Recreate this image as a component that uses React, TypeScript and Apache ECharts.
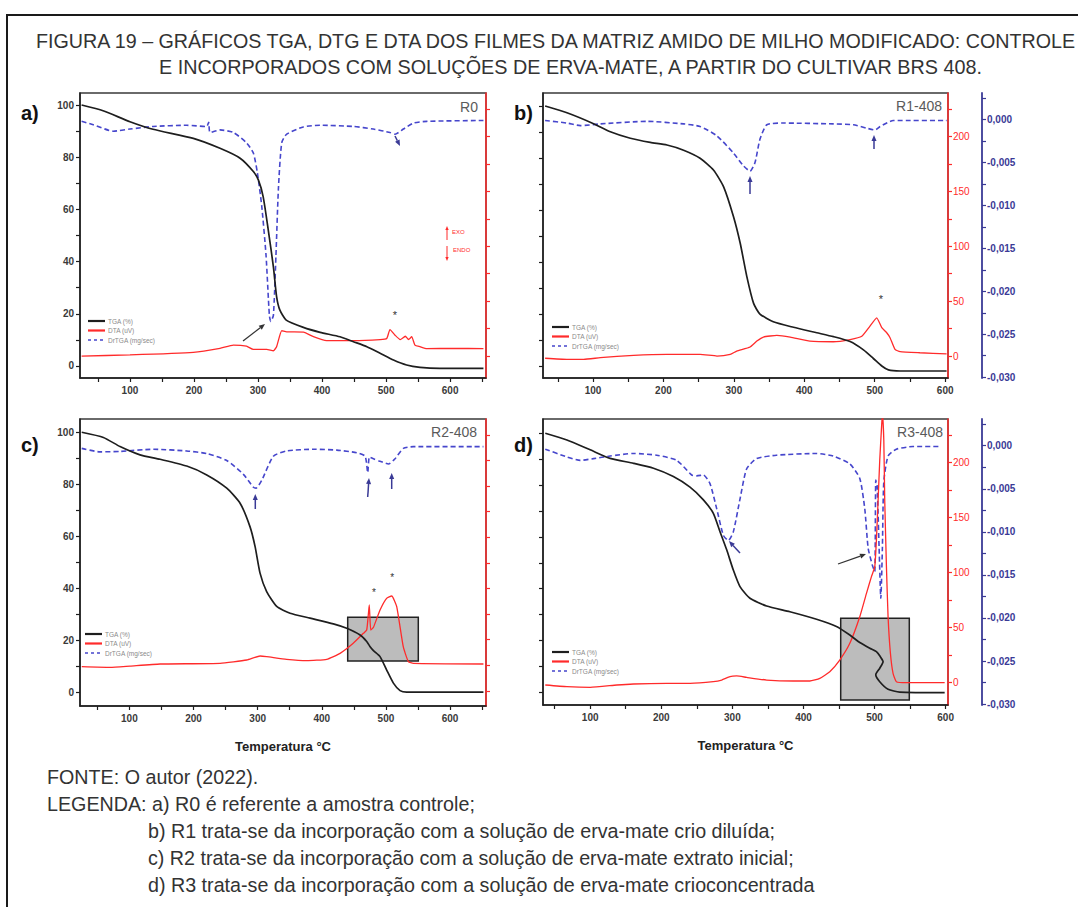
import React, { useEffect, useRef } from "react";
import * as echarts from "echarts";

const FONT = '"Liberation Sans", Arial, sans-serif';

const TITLE_LINES = [
  "FIGURA 19 – GRÁFICOS TGA, DTG E DTA DOS FILMES DA MATRIZ AMIDO DE MILHO MODIFICADO: CONTROLE",
  "E INCORPORADOS COM SOLUÇÕES DE ERVA-MATE, A PARTIR DO CULTIVAR BRS 408.",
];
const CAPTION_LINES = [
  "FONTE: O autor (2022).",
  "LEGENDA: a) R0 é referente a amostra controle;",
  "b) R1 trata-se da incorporação com a solução de erva-mate crio diluída;",
  "c) R2 trata-se da incorporação com a solução de erva-mate extrato inicial;",
  "d) R3 trata-se da incorporação com a solução de erva-mate crioconcentrada",
];
const PANEL_LETTERS = ["a)", "b)", "c)", "d)"];
const SAMPLE_NAMES = ["R0", "R1-408", "R2-408", "R3-408"];
const SERIES_NAMES = ["TGA (%)", "DTA (uV)", "DrTGA (mg/sec)"];
const X_AXIS_NAME = "Temperatura °C";

const X_TICKS = [50, 100, 150, 200, 250, 300, 350, 400, 450, 500, 550, 600, 650];
const X_LABELS = [100, 200, 300, 400, 500, 600];
const TGA_TICKS = [0, 10, 20, 30, 40, 50, 60, 70, 80, 90, 100];
const TGA_LABELS = [0, 20, 40, 60, 80, 100];
const DTA_TICKS = [0, 25, 50, 75, 100, 125, 150, 175, 200, 225];
const DTA_TICKS_C = [-25, 0, 25, 50, 75, 100, 125, 150, 175, 200, 225];
const DTA_LABELS = [0, 50, 100, 150, 200];
const DTG_TICKS = [-0.03, -0.0275, -0.025, -0.0225, -0.02, -0.0175, -0.015, -0.0125, -0.01, -0.0075, -0.005, -0.0025, 0, 0.0025];
const DTG_LABELS = [-0.03, -0.025, -0.02, -0.015, -0.01, -0.005, 0];

// ---- R0 (a)
const tgaA = [[24.5,100],[58,97.8],[100,93.6],[136,90.7],[199,87.2],[240.6,83.4],[272,79.6],[292.7,74.5],[300.5,71.3],[308,64.9],[316,52.1],[324,38],[329,26.6],[334,21.5],[344,17.6],[370.8,14.8],[397,12.9],[428,11.2],[449,9.3],[470,7.4],[490.6,4.9],[511.5,2.3],[532,0.4],[553,-0.5],[584,-0.9],[652,-0.9]];
const dtaA = [[24.5,0],[100,1],[199,3.3],[240.6,7],[261.5,10],[282,9],[292.7,6],[313.5,6],[324,4.8],[329,8.5],[337,23],[344.8,22],[371,21.8],[386.5,17.6],[407,14],[449,14],[490.6,15],[501,16],[506,24],[514,19],[522,15],[530,18],[535,15],[540,17.6],[545,10],[553,8.5],[563.5,6.7],[605,7],[652,6.7]];
const dtgA = [[24.5,-0.0002],[42.7,-0.0006],[74,-0.00135],[100,-0.0011],[136,-0.0008],[188.5,-0.00066],[219.8,-0.0008],[223,-0.0003],[225,-0.0015],[240.6,-0.0012],[261.5,-0.0015],[282,-0.0027],[292.7,-0.0039],[299,-0.0062],[305.7,-0.01],[312.5,-0.0158],[317.7,-0.0228],[319.8,-0.0235],[324,-0.0228],[328,-0.0158],[331.8,-0.0081],[337,-0.0027],[344.8,-0.0017],[370.8,-0.00085],[397,-0.00066],[449,-0.0008],[480,-0.0011],[506,-0.0015],[514,-0.0017],[527,-0.0011],[542.7,-0.0004],[563.5,-0.0002],[652,-0.0001]];

// ---- R1-408 (b)
const tgaB = [[32,100],[63,97.4],[100,93.3],[124.6,90.1],[153,87.6],[181.3,86],[205,85],[228.6,83],[252,79.9],[271,75.4],[285.3,69],[299.5,57.4],[309,47.2],[318.4,34.4],[328,24.1],[337,20],[356,17],[384.6,14.9],[417.7,12.8],[441.4,11.3],[465,9.4],[484,6.2],[498,2.9],[510,0],[519.4,-1.5],[536,-1.9],[602,-1.9]];
const dtaB = [[32,-2],[63,-3],[86.8,-3],[110.4,-1.5],[157.7,0.6],[205,1.5],[252,1.5],[276,0],[294.8,1.5],[304,4.5],[323,8.2],[332.6,13.6],[342,17.3],[361,18.8],[380,17.3],[408,13.6],[441,13],[465,15],[481.6,18],[493,27],[502.8,34.8],[510,25.8],[517,21.2],[521.7,16.7],[528.8,6],[536,4],[564,3],[602,2]];
const dtgB = [[32,-0.0001],[63,-0.0004],[82,-0.0007],[110.4,-0.0005],[176.6,-0.0002],[228.6,-0.0005],[252,-0.0008],[276,-0.0019],[299.5,-0.0039],[313.7,-0.0054],[323,-0.006],[330,-0.005],[337,-0.0023],[346.8,-0.0006],[370,-0.0004],[441,-0.0005],[469.7,-0.0006],[488.6,-0.001],[500.5,-0.0012],[507.6,-0.0008],[526.5,-0.0001],[602,-0.0001]];

// ---- R2-408 (c)
const tgaC = [[25.7,100],[59.5,98],[85.4,94.5],[116.6,91.3],[147.8,89.6],[189.4,87],[220.6,83.6],[251.8,78.5],[272.6,72.7],[288,63.7],[296,56],[303.7,45.8],[314,38.7],[329.7,33],[350.5,30.4],[381.7,28.5],[418,26.3],[438.9,24.6],[459.7,22],[470,19.5],[475,17.6],[480.5,16],[490.8,13.7],[501,8.6],[511.6,3.5],[522,0.6],[532.4,0],[652,0]];
const dtaC = [[25.7,-1.3],[70,-2],[101,-0.7],[147.8,1.3],[241.4,2],[283,5.2],[303.7,9.1],[314,8.5],[345,5.9],[376.5,4.6],[407.7,5.9],[428.5,11.7],[449,21.5],[464.9,31.3],[470,34.5],[472.7,50.8],[474,58.9],[476.3,34.5],[480.5,37.1],[490.8,54],[501,65.4],[509,67.7],[516.8,57.3],[527,18.2],[535,3.6],[542.8,2],[652,1.3]];
const dtgC = [[25.7,-0.0003],[54,-0.0007],[85.4,-0.00065],[137.4,-0.0004],[189.4,-0.0006],[220.6,-0.0009],[251.8,-0.0017],[277.8,-0.0033],[293.4,-0.0048],[297.5,-0.0049],[306.3,-0.004],[324.5,-0.0012],[345.3,-0.0006],[386.9,-0.0004],[423.3,-0.0005],[454.5,-0.0008],[467.5,-0.0012],[471.6,-0.0031],[474.2,-0.0013],[480.5,-0.0015],[491,-0.0018],[504,-0.0021],[514.2,-0.0015],[527.2,-0.0003],[542.8,-0.0001],[652,-0.0001]];

// ---- R3-408 (d)
const tgaD = [[36.8,100],[67.2,97.4],[100,93.6],[128,90.3],[160.9,88.4],[189,86.5],[217,83.3],[240.4,79.2],[259.2,74.3],[273.2,69.1],[282.6,62],[292,55],[301.3,47.2],[310.7,40.8],[324.7,36.3],[348.1,33.3],[380.9,31.1],[418.4,28.2],[446.4,25.4],[465.2,22.1],[479.2,19.2],[493.3,17],[502.6,15.7],[508,13.8],[512,11.8],[507.3,9.3],[501.7,6.8],[507.3,4.1],[519,1.2],[535.4,0.1],[598.6,-0.1]];
const dtaD = [[36.8,-2.1],[67.2,-3.6],[100,-4.2],[137.5,-2.1],[160.9,-1.2],[207.7,-0.6],[240.4,-0.6],[273.2,0.9],[285,2.4],[296.6,5.5],[306,6.1],[320,4.8],[348.1,2.4],[385.6,1.5],[409,1.5],[423,3.9],[437,10],[451,20.6],[465.2,35.8],[479.2,60],[488.6,81.2],[495.6,96.4],[500.3,105.5],[502.6,129.7],[505,166],[507.3,202.4],[509.6,229.7],[511,245],[513,220.6],[514.3,166],[516.7,105.5],[519,60],[522.3,26.7],[526,8.5],[530.7,0.9],[544.8,0],[598.6,0]];
const dtgD = [[36.8,-0.0004],[67.2,-0.0013],[86,-0.0017],[104.7,-0.0015],[128,-0.0012],[160.9,-0.0009],[193.6,-0.0011],[221.7,-0.0017],[242.8,-0.0034],[249.8,-0.0035],[259.2,-0.0034],[268.5,-0.0044],[277.9,-0.0073],[287.3,-0.0104],[294.3,-0.011],[301.3,-0.01],[310.7,-0.0062],[320,-0.0027],[334,-0.0015],[362,-0.0011],[418.4,-0.0009],[441.8,-0.0012],[465.2,-0.0021],[479.2,-0.0038],[486.2,-0.0073],[491,-0.0119],[497,-0.0139],[500.3,-0.0146],[501.7,-0.004],[503.6,-0.0046],[506.4,-0.0119],[508.8,-0.0177],[511,-0.0119],[513,-0.0042],[519,-0.0012],[530.7,-0.0004],[554,-0.0001],[594,-0.0001]];

const TGA_DATA = [tgaA, tgaB, tgaC, tgaD];
const DTA_DATA = [dtaA, dtaB, dtaC, dtaD];
const DTG_DATA = [dtgA, dtgB, dtgC, dtgD];

const LAYOUT = [
  { left: 80, top: 93, width: 406, height: 285, xMin: 22, xMax: 656, tMin: -4.6, tMax: 104.6, dMin: -20, dMax: 239.5, dTicks: DTA_TICKS, leftLabels: true, right: false, bottom: false },
  { left: 543, top: 93, width: 405, height: 285, xMin: 29, xMax: 604, tMin: -4.6, tMax: 105, dMin: -20, dMax: 239.5, dTicks: DTA_TICKS, leftLabels: false, right: true, bottom: false },
  { left: 80, top: 419, width: 406, height: 287, xMin: 23, xMax: 656, tMin: -5.3, tMax: 105.1, dMin: -39.7, dMax: 240.5, dTicks: DTA_TICKS_C, leftLabels: true, right: false, bottom: true },
  { left: 543, top: 419, width: 405, height: 286, xMin: 33.6, xMax: 603.3, tMin: -4.9, tMax: 105.5, dMin: -20.3, dMax: 239.7, dTicks: DTA_TICKS, leftLabels: false, right: true, bottom: true },
];

const BLACK = "#1e1e1e";
const RED = "#ff2b2b";
const BLUE = "#4646cc";
const NAVY = "#3a3a96";

function arrow(x1: number, y1: number, x2: number, y2: number, color: string, head = 6, w = 1.3) {
  const a = Math.atan2(y2 - y1, x2 - x1);
  const bx = x2 - head * Math.cos(a);
  const by = y2 - head * Math.sin(a);
  const px = -Math.sin(a) * head * 0.42;
  const py = Math.cos(a) * head * 0.42;
  return [
    { type: "line", z: 20, shape: { x1, y1, x2: bx, y2: by }, style: { stroke: color, lineWidth: w } },
    { type: "polygon", z: 20, shape: { points: [[x2, y2], [bx + px, by + py], [bx - px, by - py]] }, style: { fill: color } },
  ];
}

function txt(x: number, y: number, text: string, size: number, color: string, align = "left", weight = "normal") {
  return {
    type: "text", x, y, z: 20,
    style: { text, fontSize: size, fontFamily: FONT, fontWeight: weight, fill: color, align, verticalAlign: "middle" },
  };
}

function legendBlock(x: number, y: number) {
  const items: any[] = [];
  const colors = [BLACK, RED, BLUE];
  SERIES_NAMES.forEach((n, k) => {
    const yy = y + k * 9.5;
    items.push({
      type: "line", z: 20, shape: { x1: x, y1: yy, x2: x + 17, y2: yy },
      style: { stroke: colors[k], lineWidth: k === 2 ? 1.6 : 2.2, lineDash: k === 2 ? [3, 3] : null },
    });
    items.push(txt(x + 20, yy, n, 6.5, "#8a8a8a"));
  });
  return items;
}

export default function App() {
  const ref = useRef<HTMLDivElement>(null);
  useEffect(() => {
    if (!ref.current) return;
    const chart = echarts.init(ref.current, null, { renderer: "svg" });

    const grids: any[] = [];
    const xAxes: any[] = [];
    const yAxes: any[] = [];
    const series: any[] = [];

    LAYOUT.forEach((L, i) => {
      grids.push({ left: L.left, top: L.top, width: L.width, height: L.height, show: true, borderColor: "#3a3a3a", borderWidth: 1.5, backgroundColor: "transparent" });
      xAxes.push({
        type: "value", gridIndex: i, min: L.xMin, max: L.xMax,
        axisLine: { show: true, onZero: false, lineStyle: { color: BLACK, width: 1.5 } },
        axisTick: { show: true, length: 4, customValues: X_TICKS.filter((v) => v > L.xMin && v < L.xMax), lineStyle: { color: BLACK, width: 1.2 } },
        axisLabel: { show: true, customValues: X_LABELS, fontSize: 10, fontWeight: "bold", color: "#3a3a3a", fontFamily: FONT, margin: 7 },
        splitLine: { show: false },
        name: L.bottom ? X_AXIS_NAME : "",
        nameLocation: "middle", nameGap: 34,
        nameTextStyle: { fontSize: 13, fontWeight: "bold", color: "#222", fontFamily: FONT },
      });
      yAxes.push({
        type: "value", gridIndex: i, position: "left", min: L.tMin, max: L.tMax,
        axisLine: { show: true, onZero: false, lineStyle: { color: BLACK, width: 1.5 } },
        axisTick: { show: true, length: 4, customValues: TGA_TICKS, lineStyle: { color: BLACK, width: 1.2 } },
        axisLabel: { show: L.leftLabels, customValues: TGA_LABELS, fontSize: 10, fontWeight: "bold", color: "#3a3a3a", fontFamily: FONT, margin: 6 },
        splitLine: { show: false },
      });
      yAxes.push({
        type: "value", gridIndex: i, position: "right", offset: 0, min: L.dMin, max: L.dMax,
        axisLine: { show: true, onZero: false, lineStyle: { color: RED, width: 1.5 } },
        axisTick: { show: true, length: 4, customValues: L.dTicks, lineStyle: { color: RED, width: 1.2 } },
        axisLabel: { show: L.right, customValues: DTA_LABELS, fontSize: 10, color: RED, fontFamily: FONT, margin: 5 },
        splitLine: { show: false },
      });
      yAxes.push({
        type: "value", gridIndex: i, position: "right", offset: 34, min: -0.0301, max: 0.0031, show: L.right,
        axisLine: { show: true, onZero: false, lineStyle: { color: NAVY, width: 1.8 } },
        axisTick: { show: true, length: 4, customValues: DTG_TICKS, lineStyle: { color: NAVY, width: 1.2 } },
        axisLabel: {
          show: true, customValues: DTG_LABELS, fontSize: 10, fontWeight: "bold", color: NAVY, fontFamily: FONT, margin: 5,
          formatter: (v: number) => (Math.abs(v) < 1e-9 ? "0,000" : v.toFixed(3).replace(".", ",")),
        },
        splitLine: { show: false },
      });
      const common = { type: "line", xAxisIndex: i, showSymbol: false, symbol: "none", animation: false, silent: true, emphasis: { disabled: true } };
      series.push({ ...common, name: SERIES_NAMES[2], yAxisIndex: 3 * i + 2, data: DTG_DATA[i], smooth: 0.2, z: 3, lineStyle: { color: BLUE, width: 1.6, type: [5, 3] } });
      series.push({ ...common, name: SERIES_NAMES[1], yAxisIndex: 3 * i + 1, data: DTA_DATA[i], smooth: 0.15, z: 4, lineStyle: { color: RED, width: 1.3 } });
      series.push({ ...common, name: SERIES_NAMES[0], yAxisIndex: 3 * i, data: TGA_DATA[i], smooth: 0.2, z: 5, lineStyle: { color: BLACK, width: 1.7 } });
    });

    const g: any[] = [];
    // outer frame
    g.push({ type: "rect", z: 0, shape: { x: 7, y: 15, width: 1100, height: 1000 }, style: { fill: "none", stroke: "#1a1a1a", lineWidth: 2 } });
    // titles
    g.push(txt(36, 40.5, TITLE_LINES[0], 19.7, "#333"));
    g.push(txt(159, 66.6, TITLE_LINES[1], 19.8, "#333"));
    // captions
    g.push(txt(47, 777, CAPTION_LINES[0], 19.7, "#333"));
    g.push(txt(47, 804, CAPTION_LINES[1], 19.7, "#333"));
    g.push(txt(148, 831, CAPTION_LINES[2], 19.7, "#333"));
    g.push(txt(148, 858, CAPTION_LINES[3], 19.7, "#333"));
    g.push(txt(148, 885, CAPTION_LINES[4], 19.7, "#333"));
    // panel letters
    g.push(txt(21, 113, PANEL_LETTERS[0], 20, "#111", "left", "bold"));
    g.push(txt(514, 113, PANEL_LETTERS[1], 20, "#111", "left", "bold"));
    g.push(txt(21, 445, PANEL_LETTERS[2], 20, "#111", "left", "bold"));
    g.push(txt(514, 445, PANEL_LETTERS[3], 20, "#111", "left", "bold"));
    // sample names
    g.push(txt(478, 107, SAMPLE_NAMES[0], 14, "#5a5a5a", "right"));
    g.push(txt(942, 106, SAMPLE_NAMES[1], 14, "#5a5a5a", "right"));
    g.push(txt(477, 432, SAMPLE_NAMES[2], 14, "#5a5a5a", "right"));
    g.push(txt(943, 432, SAMPLE_NAMES[3], 14, "#5a5a5a", "right"));
    // legends
    g.push(...legendBlock(88, 321));
    g.push(...legendBlock(552, 327));
    g.push(...legendBlock(85, 634));
    g.push(...legendBlock(552, 652));
    // gray boxes (behind series)
    g.push({ type: "rect", z: 1, shape: { x: 347.7, y: 617.3, width: 70.6, height: 43.7 }, style: { fill: "#bcbcbc", stroke: "#222", lineWidth: 1.5 } });
    g.push({ type: "rect", z: 1, shape: { x: 840.7, y: 618.3, width: 68.6, height: 81.7 }, style: { fill: "#bcbcbc", stroke: "#222", lineWidth: 1.5 } });
    // annotations a
    g.push(...arrow(243, 341, 265, 324, "#333"));
    g.push(txt(395, 315, "*", 11, "#333", "center"));
    g.push(...arrow(395, 136, 400, 146, NAVY, 6, 1.5));
    g.push(...arrow(447, 240, 447, 226, RED, 4, 1));
    g.push(txt(452, 232, "EXO", 6, RED));
    g.push(...arrow(447, 246, 447, 261, RED, 4, 1));
    g.push(txt(453, 250, "ENDO", 6, RED));
    // annotations b
    g.push(...arrow(750, 194, 750, 176, NAVY, 6, 1.5));
    g.push(...arrow(874, 149, 874, 135, NAVY, 6, 1.5));
    g.push(txt(881, 299, "*", 11, "#333", "center"));
    // annotations c
    g.push(...arrow(255.3, 509, 255.3, 494, NAVY, 6, 1.5));
    g.push(...arrow(367.7, 497, 369, 478, NAVY, 6, 1.5));
    g.push(...arrow(391.7, 489, 391.7, 473, NAVY, 6, 1.5));
    g.push(txt(374, 592, "*", 10, "#333", "center"));
    g.push(txt(392.3, 577, "*", 10, "#333", "center"));
    // annotations d
    g.push(...arrow(740, 553, 729, 541, NAVY, 6, 1.5));
    g.push(...arrow(838, 564, 866, 554, "#333"));

    chart.setOption({
      animation: false,
      textStyle: { fontFamily: FONT },
      grid: grids,
      xAxis: xAxes,
      yAxis: yAxes,
      series,
      graphic: { elements: g },
    });
    return () => chart.dispose();
  }, []);
  return <div ref={ref} style={{ position: "fixed", left: 0, top: 0, width: 1078, height: 907, background: "#fff" }} />;
}
